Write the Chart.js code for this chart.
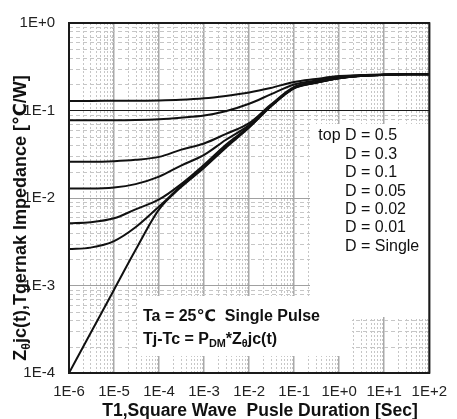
<!DOCTYPE html>
<html>
<head>
<meta charset="utf-8">
<script src="https://cdn.jsdelivr.net/npm/chart.js@4.4.1/dist/chart.umd.min.js"></script>
<style>
  html, body { margin: 0; padding: 0; background: #fff; }
  #c { display: block; }
</style>
</head>
<body>
<canvas id="c" width="457" height="419"></canvas>
<script>
// Pulse duration (s) at which each curve is sampled
const pulseTimes = [1e-6, 3e-6, 1e-5, 3e-5, 1e-4, 3e-4, 1e-3, 3e-3, 1e-2, 3e-2, 1e-1, 3e-1, 1, 3, 10, 30, 100];

// Transient thermal impedance Zθjc (℃/W) per duty cycle
const zD050   = [0.1283, 0.1287, 0.1290, 0.1293, 0.1300, 0.1323, 0.1377, 0.1469, 0.1609, 0.1810, 0.2117, 0.2290, 0.2476, 0.2541, 0.2575, 0.2588, 0.2588];
const zD030   = [0.0776, 0.0776, 0.0776, 0.0780, 0.0796, 0.0828, 0.0877, 0.0981, 0.1193, 0.1528, 0.1984, 0.2202, 0.2413, 0.2509, 0.2561, 0.2588, 0.2588];
const zD010   = [0.0259, 0.0259, 0.0263, 0.0273, 0.0295, 0.0355, 0.0420, 0.0538, 0.0717, 0.1162, 0.1859, 0.2117, 0.2362, 0.2495, 0.2555, 0.2588, 0.2588];
const zD005   = [0.01281, 0.01281, 0.01315, 0.01441, 0.01753, 0.02335, 0.03112, 0.0460, 0.0681, 0.1132, 0.1834, 0.2089, 0.2350, 0.2489, 0.2555, 0.2588, 0.2588];
const zD002   = [0.00514, 0.00528, 0.00586, 0.00741, 0.00962, 0.01422, 0.02397, 0.0404, 0.0655, 0.1117, 0.1810, 0.2079, 0.2344, 0.2489, 0.2555, 0.2588, 0.2588];
const zD001   = [0.00261, 0.00271, 0.00322, 0.00463, 0.00801, 0.0135, 0.02275, 0.0383, 0.0646, 0.1117, 0.1810, 0.2073, 0.2338, 0.2482, 0.2555, 0.2588, 0.2588];
const zSingle = [0.000100, 0.000284, 0.000895, 0.00254, 0.00741, 0.01315, 0.02216, 0.03735, 0.0638, 0.1103, 0.1787, 0.2068, 0.2332, 0.2482, 0.2555, 0.2588, 0.2588];

const seriesNames = ['D = 0.5', 'D = 0.3', 'D = 0.1', 'D = 0.05', 'D = 0.02', 'D = 0.01', 'D = Single'];
const seriesValues = [zD050, zD030, zD010, zD005, zD002, zD001, zSingle];

// Axis decades and their labels
const xTickValues = [1e-6, 1e-5, 1e-4, 1e-3, 1e-2, 1e-1, 1, 10, 100];
const xTickLabels = ['1E-6', '1E-5', '1E-4', '1E-3', '1E-2', '1E-1', '1E+0', '1E+1', '1E+2'];
const yTickValues = [1e-4, 1e-3, 1e-2, 1e-1, 1];
const yTickLabels = ['1E-4', '1E-3', '1E-2', '1E-1', '1E+0'];

const FONT = "'Liberation Sans', Arial, 'DejaVu Sans', sans-serif";

// Draw a run of text pieces; pieces flagged as subscript are smaller and lowered
function richWidth(ctx, parts, size, weight) {
  let w = 0;
  for (const [t, sub] of parts) {
    ctx.font = `${weight} ${sub ? size * 0.68 : size}px ${FONT}`;
    w += ctx.measureText(t).width;
  }
  return w;
}
function drawRich(ctx, parts, x, y, size, weight) {
  let cx = x;
  for (const [t, sub] of parts) {
    ctx.font = `${weight} ${sub ? size * 0.68 : size}px ${FONT}`;
    ctx.fillText(t, cx, sub ? y + size * 0.22 : y);
    cx += ctx.measureText(t).width;
  }
}

const decor = {
  id: 'decor',
  beforeDatasetsDraw(chart) {
    const { ctx, chartArea: a, scales: { x, y } } = chart;
    ctx.save();
    ctx.beginPath();
    ctx.rect(a.left, a.top, a.right - a.left, a.bottom - a.top);
    ctx.clip();
    ctx.lineWidth = 1;
    ctx.strokeStyle = '#c6c6c6';
    // minor vertical grid
    ctx.setLineDash([2, 2]);
    for (let e = -6; e < 2; e++) {
      for (let m = 2; m <= 9; m++) {
        const px = Math.round(x.getPixelForValue(m * Math.pow(10, e))) + 0.5;
        ctx.beginPath(); ctx.moveTo(px, a.top); ctx.lineTo(px, a.bottom); ctx.stroke();
      }
    }
    // minor horizontal grid
    ctx.setLineDash([4, 3]);
    for (let e = -4; e < 0; e++) {
      for (let m = 2; m <= 9; m++) {
        const py = Math.round(y.getPixelForValue(m * Math.pow(10, e))) + 0.5;
        ctx.beginPath(); ctx.moveTo(a.left, py); ctx.lineTo(a.right, py); ctx.stroke();
      }
    }
    ctx.setLineDash([]);
    // white panels behind the notes
    ctx.fillStyle = '#ffffff';
    ctx.fillRect(310, 124, 123, 193);
    ctx.fillRect(137, 296, 215, 60);
    ctx.restore();
  },
  afterDraw(chart) {
    const { ctx, chartArea: a } = chart;
    ctx.save();
    // plot frame
    ctx.strokeStyle = '#1a1a1a';
    ctx.lineWidth = 2;
    ctx.strokeRect(a.left, a.top, a.right - a.left, a.bottom - a.top);

    ctx.fillStyle = '#111';
    ctx.textBaseline = 'middle';

    // duty-cycle key
    ctx.font = `16px ${FONT}`;
    seriesNames.forEach((name, i) => {
      const ty = 136 + i * 18.4;
      ctx.textAlign = 'left';
      ctx.fillText(name, 345, ty);
      if (i === 0) {
        ctx.textAlign = 'right';
        ctx.fillText('top ', 345, ty);
      }
    });

    // conditions note
    ctx.textAlign = 'left';
    ctx.font = `bold 16px ${FONT}`;
    ctx.fillText('Ta = 25\u2103  Single Pulse', 143, 317);
    drawRich(ctx, [['Tj-Tc = P', false], ['DM', true], ['*Z', false], ['\u03b8', true], ['jc(t)', false]], 143, 340, 16, 'bold');

    // x-axis title
    ctx.textBaseline = 'alphabetic';
    ctx.textAlign = 'center';
    ctx.font = `bold 17.5px ${FONT}`;
    ctx.fillText('T1,Square Wave  Pusle Duration [Sec]', 260, 416);

    // y-axis title (rotated)
    ctx.textAlign = 'left';
    const yParts = [['Z', false], ['\u03b8', true], ['jc(t),Tgernak Impedance [\u2103/W]', false]];
    const w = richWidth(ctx, yParts, 18, 'bold');
    ctx.translate(26, 218);
    ctx.rotate(-Math.PI / 2);
    drawRich(ctx, yParts, -w / 2, 0, 18, 'bold');
    ctx.restore();
  }
};

const datasets = seriesValues.map((vals, i) => ({
  label: seriesNames[i],
  data: pulseTimes.map((t, j) => ({ x: t, y: vals[j] })),
  borderColor: '#111',
  borderWidth: 2,
  pointRadius: 0,
  fill: false,
  cubicInterpolationMode: 'monotone'
}));

new Chart(document.getElementById('c'), {
  type: 'line',
  data: { datasets },
  options: {
    responsive: false,
    devicePixelRatio: 1,
    animation: false,
    layout: { padding: { top: 20, right: 22, left: 0, bottom: 0 } },
    plugins: { legend: { display: false }, tooltip: { enabled: false } },
    scales: {
      x: {
        type: 'logarithmic',
        min: 1e-6,
        max: 100,
        afterBuildTicks: s => { s.ticks = xTickValues.map(v => ({ value: v })); },
        afterFit: s => { s.height = 46; },
        ticks: {
          callback: (v, i) => xTickLabels[i],
          font: { family: FONT, size: 15 },
          color: '#222',
          padding: 10,
          maxRotation: 0,
          autoSkip: false
        },
        grid: { color: '#a9a9a9', lineWidth: 1.5, drawTicks: false },
        border: { display: false }
      },
      y: {
        type: 'logarithmic',
        min: 1e-4,
        max: 1,
        afterBuildTicks: s => { s.ticks = yTickValues.map(v => ({ value: v })); },
        afterFit: s => { s.width = 69; },
        ticks: {
          callback: (v, i) => yTickLabels[i],
          font: { family: FONT, size: 15 },
          color: '#222',
          padding: 14,
          autoSkip: false
        },
        grid: {
          color: c => (c.tick && c.tick.value === 0.1) ? '#1a1a1a' : '#a0a0a0',
          lineWidth: 1,
          drawTicks: false
        },
        border: { display: false }
      }
    }
  },
  plugins: [decor]
});
</script>
</body>
</html>
